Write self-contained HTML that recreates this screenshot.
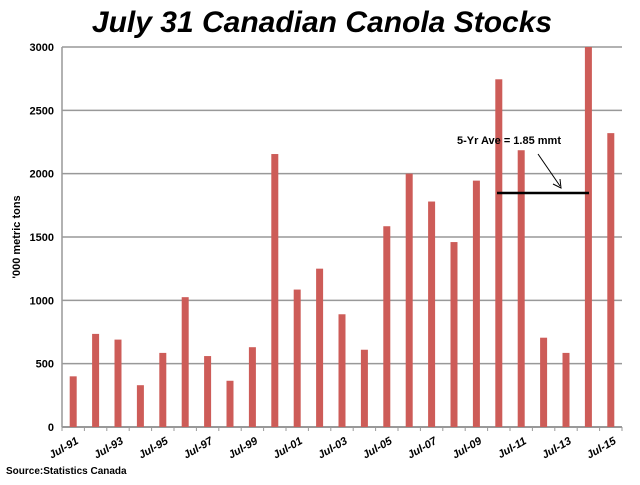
<!DOCTYPE html>
<html><head><meta charset="utf-8"><style>
body{margin:0;background:#fff;}
svg text{font-family:"Liberation Sans",sans-serif;}
</style></head><body>
<svg id="c" width="640" height="480" xmlns="http://www.w3.org/2000/svg">
<text x="322" y="32" text-anchor="middle" font-size="30" font-weight="bold" font-style="italic">July 31 Canadian Canola Stocks</text>
<text transform="translate(20,237) rotate(-90)" text-anchor="middle" font-size="11" font-weight="bold">'000 metric tons</text>
<text x="6" y="474" font-size="10" font-weight="bold">Source:Statistics Canada</text>
<g id="grid"></g><g id="bars"></g><g id="xt"></g>
<line x1="497" y1="193" x2="589" y2="193" stroke="#000" stroke-width="2.5"/>
<line x1="538" y1="154" x2="560" y2="186" stroke="#000" stroke-width="1"/>
<polyline points="553,184 561,188 560,179" fill="none" stroke="#000" stroke-width="1"/>
<text x="561" y="144" text-anchor="end" font-size="11" font-weight="bold">5-Yr Ave = 1.85 mmt</text>
</svg>
<script>
const years=["91","92","93","94","95","96","97","98","99","00","01","02","03","04","05","06","07","08","09","10","11","12","13","14","15"];
const stocks=[400,735,690,330,585,1025,560,365,630,2155,1085,1250,890,610,1585,2000,1780,1460,1945,2745,2185,705,585,3000,2320];
const yTicks=[0,500,1000,1500,2000,2500,3000];
const NS="http://www.w3.org/2000/svg";
const x0=62,x1=622,y0=427,y1=47,yMax=3000;
const bw=(x1-x0)/years.length;
const y=v=>y0-(v/yMax)*(y0-y1);
const xc=i=>x0+bw*(i+0.5);
function mk(t,a,p){const e=document.createElementNS(NS,t);for(const k in a)e.setAttribute(k,a[k]);p.appendChild(e);return e;}
const g=document.getElementById('grid'),b=document.getElementById('bars'),xt=document.getElementById('xt');
yTicks.forEach(v=>{
 const l=mk('line',{x1:x0,x2:x1,y1:y(v),y2:y(v),stroke:'#999','stroke-width':v===0?2:1.5},g);
 
 
 const t=mk('text',{x:x0-8,y:y(v)+4,'text-anchor':'end','font-size':11,'font-weight':'bold'},g);
 t.textContent=v;
 
 
});
mk('line',{x1:x0,x2:x0,y1:y1,y2:y0,stroke:'#999','stroke-width':1.5},g);
stocks.forEach((v,i)=>{
 const r=mk('rect',{x:xc(i)-3.5,y:y(v),width:7,height:y0-y(v),fill:'#cd5c58'},b);
 
 
});
for(let i=0;i<=years.length;i++){mk('line',{x1:x0+bw*i,x2:x0+bw*i,y1:y0,y2:y0+4,stroke:'#999'},xt);}
years.forEach((yr,i)=>{
 if(i%2)return;
 const t=mk('text',{transform:`translate(${xc(i)+6},${y0+16}) rotate(-30)`,'text-anchor':'end','font-size':11,'font-weight':'bold','font-style':'italic'},xt);
 t.textContent='Jul-'+yr;
 
 
});
</script>
</body></html>
